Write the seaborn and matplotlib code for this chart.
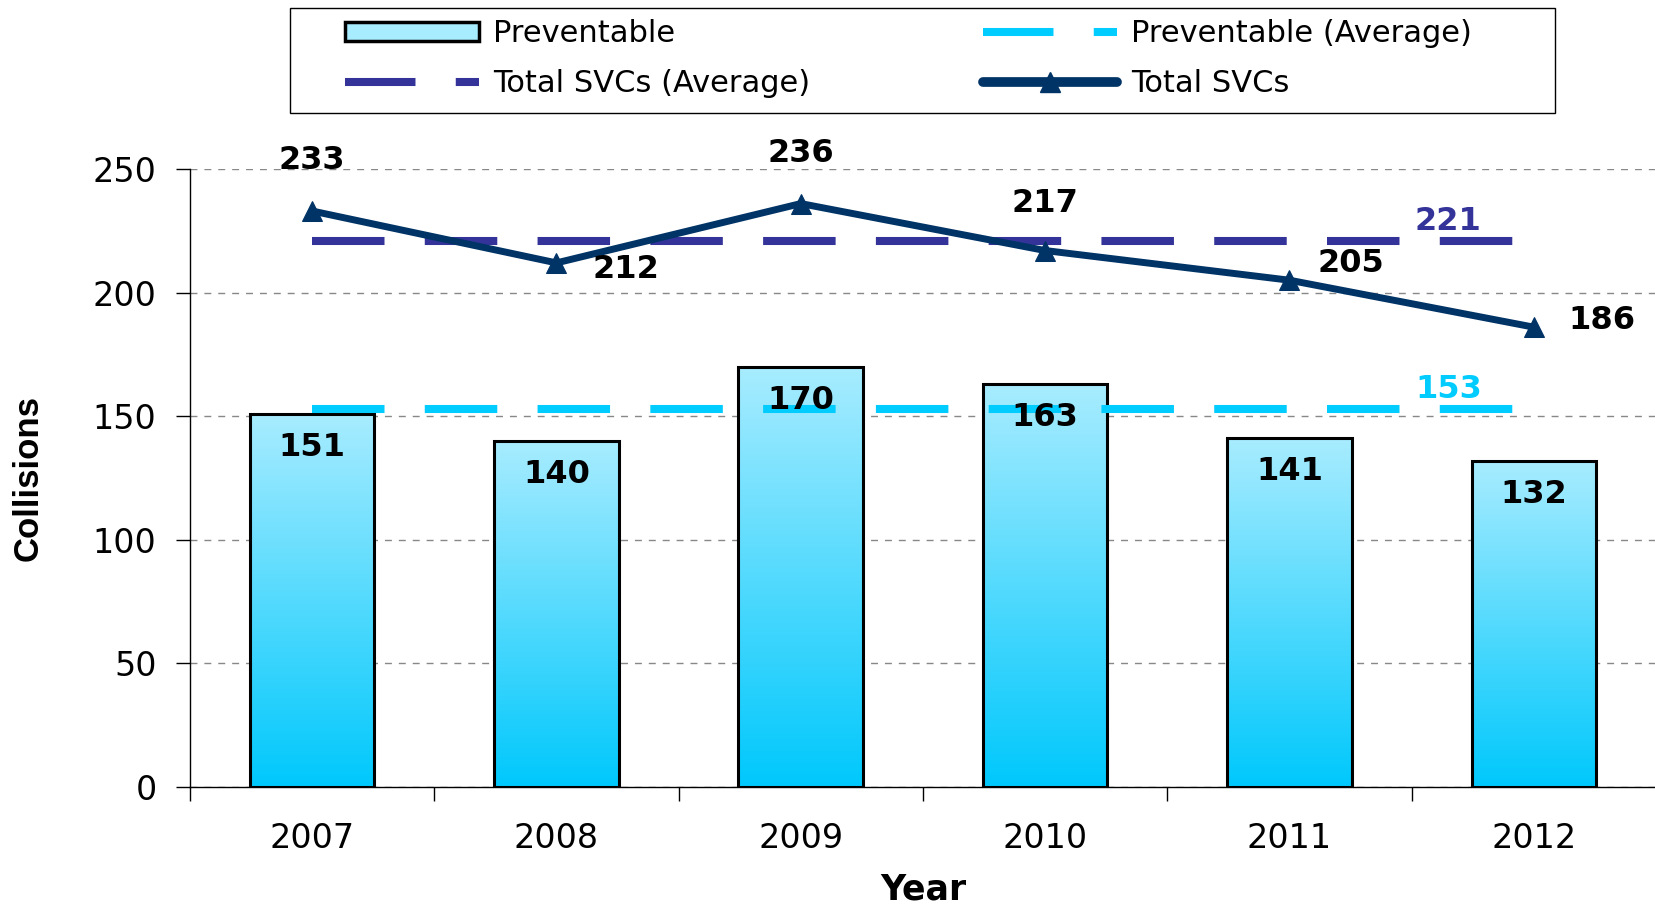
import numpy as np
import pandas as pd
import matplotlib
matplotlib.use('Agg')
import matplotlib.pyplot as plt
import seaborn as sns
from matplotlib.patches import Patch, Rectangle
from matplotlib.lines import Line2D
from matplotlib.colors import LinearSegmentedColormap

# data
years = ['2007', '2008', '2009', '2010', '2011', '2012']
preventable = [151, 140, 170, 163, 141, 132]
total_svcs = [233, 212, 236, 217, 205, 186]
preventable_avg = 153
total_avg = 221

# label offsets (points) for the Total SVCs values
line_offsets = [(0, 36), (50, -5), (0, 36), (0, 34), (44, 12), (49, 5)]

sns.set_theme(style='white', rc={'text.color': 'black', 'axes.labelcolor': 'black',
                                 'xtick.color': 'black', 'ytick.color': 'black'})
plt.rcParams['font.family'] = ['DejaVu Sans']

fig = plt.figure(figsize=(16.56, 9.05), dpi=100)
ax = fig.add_axes([0.1147, 0.1304, 0.8853, 0.6829])

df = pd.DataFrame({'Year': years, 'Preventable': preventable})
sns.barplot(data=df, x='Year', y='Preventable', ax=ax, color='#7fdfff',
            width=0.51, edgecolor='black', linewidth=2.2, saturation=1, zorder=2)

# vertical gradient fill inside each bar
cmap = LinearSegmentedColormap.from_list('grad', ['#00c8fc', '#a8ecff'])
grad = np.linspace(0, 1, 256).reshape(-1, 1)
for p in ax.patches:
    x0, y0 = p.get_x(), p.get_y()
    w, h = p.get_width(), p.get_height()
    im = ax.imshow(grad, cmap=cmap, aspect='auto', origin='lower',
                   extent=[x0, x0 + w, y0, y0 + h], zorder=2.5)
    im.set_clip_path(p)
    p.set_facecolor('none')
    p.set_zorder(3)

xs = np.arange(len(years))

# average lines
ax.plot([xs[0], xs[-1]], [preventable_avg] * 2, color='#00ccff', lw=5.8,
        dashes=(9, 5), zorder=4)
ax.plot([xs[0], xs[-1]], [total_avg] * 2, color='#333399', lw=5.8,
        dashes=(9, 5), zorder=4)
ax.text(4.65, preventable_avg + 1.5, str(preventable_avg), color='#00ccff',
        fontsize=23, fontweight='bold', ha='center', va='bottom', zorder=6)
ax.text(4.65, total_avg + 1.5, str(total_avg), color='#333399',
        fontsize=23, fontweight='bold', ha='center', va='bottom', zorder=6)

# total SVCs line
sns.lineplot(x=xs, y=total_svcs, ax=ax, color='#003366', lw=5, marker='^',
             markersize=15, markeredgecolor='#003366', zorder=5)
for x, v, off in zip(xs, total_svcs, line_offsets):
    ax.annotate(str(v), (x, v), xytext=off, textcoords='offset points',
                ha='center', va='center', fontsize=23, fontweight='bold',
                color='black', annotation_clip=False, zorder=6)

# bar value labels
for x, v in zip(xs, preventable):
    ax.annotate(str(v), (x, v), xytext=(0, -24), textcoords='offset points',
                ha='center', va='center', fontsize=23, fontweight='bold',
                color='black', zorder=6)

ax.set_ylim(0, 250)
ax.set_xlim(-0.5, 5.5)
ax.set_yticks([0, 50, 100, 150, 200, 250])
ax.yaxis.grid(True, linestyle=(0, (5, 5)), color='#888888', lw=1)
ax.set_axisbelow(True)
for s in ['top', 'right']:
    ax.spines[s].set_visible(False)
for s in ['left', 'bottom']:
    ax.spines[s].set_color('black')
    ax.spines[s].set_linewidth(1)

ax.set_xticks(xs)
ax.set_xticklabels(years)
ax.set_xticks(np.arange(-0.5, 5.6, 1), minor=True)
ax.tick_params(axis='x', which='major', length=0, pad=25, labelsize=24)
ax.tick_params(axis='x', which='minor', length=10, width=1, color='black',
               direction='out', bottom=True)
ax.tick_params(axis='y', length=10, width=1, color='black', direction='out',
               left=True, labelsize=24, pad=14)

ax.set_xlabel('Year', fontsize=25, fontweight='bold', labelpad=13)
ax.set_ylabel('Collisions', fontsize=25, fontweight='bold',
              family=['Liberation Sans'])
ax.yaxis.set_label_coords(-0.099, 0.5)

# legend with a separate square frame
fig.patches.append(Rectangle((0.1751, 0.8751), 0.7639, 0.116, transform=fig.transFigure,
                             fill=False, edgecolor='black', lw=1))
handles = [
    Patch(facecolor='#a8ecff', edgecolor='black', linewidth=2.5),
    Line2D([], [], color='#333399', lw=5.8, dashes=(8.75, 5)),
    Line2D([], [], color='#00ccff', lw=5.8, dashes=(8.75, 5)),
    Line2D([], [], color='#003366', lw=7, marker='^', markersize=15,
           solid_capstyle='round'),
]
labels = ['Preventable', 'Total SVCs (Average)',
          'Preventable (Average)', 'Total SVCs']
leg = fig.legend(handles, labels, ncol=2, loc='upper left',
                 bbox_to_anchor=(0.2083, 0.979), frameon=False, fontsize=22,
                 handlelength=4.4, handleheight=0.6, handletextpad=0.45,
                 columnspacing=5.65, labelspacing=0.7, borderpad=0,
                 borderaxespad=0)

fig.savefig('out.png', dpi=100)
